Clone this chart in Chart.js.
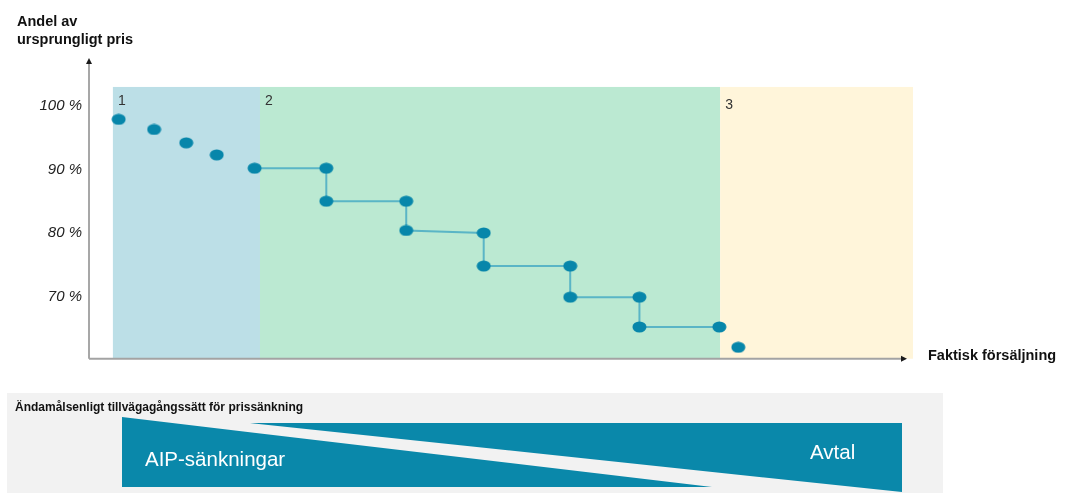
<!DOCTYPE html>
<html lang="sv">
<head>
<meta charset="utf-8">
<script src="https://cdn.jsdelivr.net/npm/chart.js@4.4.1/dist/chart.umd.min.js"></script>
<style>
  html, body { margin: 0; padding: 0; background: #fff; }
  #wrap { position: relative; width: 1067px; height: 493px; overflow: hidden; font-family: "Liberation Sans", Arial, sans-serif; }
  #c { position: absolute; left: 0; top: 0; }
  #panel { position: absolute; left: 0; top: 0; }
  .t { position: absolute; white-space: nowrap; }
  #ytitle { left: 17px; top: 13px; font-size: 14.5px; font-weight: bold; line-height: 17.5px; color: #111; }
  #xtitle { left: 928px; top: 346px; font-size: 14.5px; font-weight: bold; line-height: 18px; color: #111; }
  #ptitle { left: 15px; top: 400px; font-size: 12px; font-weight: bold; line-height: 14px; color: #111; }
  #aip { left: 145px; top: 447px; font-size: 20.5px; line-height: 24px; color: #fff; }
  #avtal { left: 810px; top: 440px; font-size: 20.5px; line-height: 24px; color: #fff; }
</style>
</head>
<body>
<div id="wrap">
  <canvas id="c" width="1067" height="493"></canvas>
  <svg id="panel" width="1067" height="493" viewBox="0 0 1067 493">
    <rect x="7" y="393" width="936" height="100" fill="#F2F2F2"/>
    <polygon points="122,417 122,487 712,487" fill="#0A88AA"/>
    <polygon points="250,423 902,423 902,492" fill="#0A88AA"/>
  </svg>
  <div class="t" id="ytitle">Andel av<br>ursprungligt pris</div>
  <div class="t" id="xtitle">Faktisk försäljning</div>
  <div class="t" id="ptitle">Ändamålsenligt tillvägagångssätt för prissänkning</div>
  <div class="t" id="aip">AIP-sänkningar</div>
  <div class="t" id="avtal">Avtal</div>
</div>
<script>
// Share of the original price (%) against actual sales (relative units)
const earlyX = [3.6, 7.9, 11.8, 15.5];
const earlyY = [97.9, 96.3, 94.2, 92.3];
const stepX = [20.1, 28.8, 28.8, 38.5, 38.5, 47.9, 47.9, 58.4, 58.4, 66.8, 66.8, 76.5];
const stepY = [90.2, 90.2, 85.0, 85.0, 80.4, 80.0, 74.8, 74.8, 69.9, 69.9, 65.2, 65.2];
const lateX = [78.8];
const lateY = [62.0];

// Phase boundaries on the sales axis, and their labels
const phaseEdges = [2.9, 20.75, 76.6, 100];
const phaseLabels = ['1', '2', '3'];
const phaseColors = ['#BCDFE7', '#BBE9D2', '#FFF5DA'];
const phaseTop = 103.0;
const axisBase = 60.2;

const yTicks = [70, 80, 90, 100];

const toPoints = (xs, ys) => xs.map((x, i) => ({ x: x, y: ys[i] }));

// Flat oval marker
function ovalMarker(w, h, color) {
  const c = document.createElement('canvas');
  c.width = w; c.height = h;
  const g = c.getContext('2d');
  g.fillStyle = color;
  g.beginPath();
  g.ellipse(w / 2, h / 2, w / 2 - 0.5, h / 2 - 0.5, 0, 0, Math.PI * 2);
  g.fill();
  return c;
}
const dot = ovalMarker(15, 12, '#0786AA');

// Coloured phase bands behind the series
const phaseBands = {
  id: 'phaseBands',
  beforeDatasetsDraw(chart) {
    const { ctx, scales: { x, y } } = chart;
    const top = y.getPixelForValue(phaseTop);
    const bottom = y.getPixelForValue(axisBase);
    ctx.save();
    for (let i = 0; i < phaseLabels.length; i++) {
      const l = x.getPixelForValue(phaseEdges[i]);
      const r = x.getPixelForValue(phaseEdges[i + 1]);
      ctx.fillStyle = phaseColors[i];
      ctx.fillRect(l, top, r - l, bottom - top);
      ctx.fillStyle = '#333';
      ctx.font = '14px "Liberation Sans", Arial, sans-serif';
      ctx.textAlign = 'left';
      ctx.textBaseline = 'middle';
      ctx.fillText(phaseLabels[i], l + 5, top + 14 + (i === 2 ? 4 : 0));
    }
    ctx.restore();
  }
};

// Axis lines with arrow heads
const arrowAxes = {
  id: 'arrowAxes',
  afterDatasetsDraw(chart) {
    const { ctx, chartArea, scales: { y } } = chart;
    const ox = chartArea.left;
    const oy = y.getPixelForValue(axisBase);
    const xEnd = chartArea.right - 6;
    const yEnd = 58;
    ctx.save();
    ctx.strokeStyle = '#8A8A8A';
    ctx.lineWidth = 1.5;
    ctx.beginPath();
    ctx.moveTo(ox, oy);
    ctx.lineTo(ox, yEnd + 5);
    ctx.stroke();
    ctx.strokeStyle = '#A3A3A3';
    ctx.lineWidth = 2;
    ctx.beginPath();
    ctx.moveTo(ox, oy);
    ctx.lineTo(xEnd - 5, oy);
    ctx.stroke();
    ctx.fillStyle = '#1a1a1a';
    ctx.beginPath();
    ctx.moveTo(ox, yEnd);
    ctx.lineTo(ox - 3, yEnd + 6);
    ctx.lineTo(ox + 3, yEnd + 6);
    ctx.closePath();
    ctx.fill();
    ctx.beginPath();
    ctx.moveTo(xEnd, oy);
    ctx.lineTo(xEnd - 6, oy - 3);
    ctx.lineTo(xEnd - 6, oy + 3);
    ctx.closePath();
    ctx.fill();
    ctx.restore();
  }
};

new Chart(document.getElementById('c'), {
  type: 'scatter',
  data: {
    datasets: [
      {
        label: 'Prissteg',
        data: toPoints(stepX, stepY),
        showLine: true,
        borderColor: '#5AB5C6',
        borderWidth: 2,
        pointStyle: dot,
        pointRadius: 6,
        pointHoverRadius: 6
      },
      {
        label: 'Pris',
        data: toPoints(earlyX.concat(lateX), earlyY.concat(lateY)),
        showLine: false,
        pointStyle: dot,
        pointRadius: 6,
        pointHoverRadius: 6
      }
    ]
  },
  options: {
    responsive: false,
    animation: false,
    events: [],
    layout: { padding: { left: 0, top: 55.2, right: 154, bottom: 133 } },
    plugins: { legend: { display: false }, tooltip: { enabled: false } },
    scales: {
      x: { type: 'linear', min: 0, max: 100, display: false },
      y: {
        type: 'linear',
        min: 60,
        max: 108,
        afterBuildTicks: (s) => { s.ticks = yTicks.map(v => ({ value: v })); },
        afterFit: (s) => { s.width = 89; },
        grid: { display: false, drawTicks: false },
        border: { display: false },
        ticks: {
          padding: 7,
          color: '#222',
          font: { family: '"Liberation Sans", Arial, sans-serif', size: 15, style: 'italic' },
          callback: (v) => v + ' %'
        }
      }
    }
  },
  plugins: [phaseBands, arrowAxes]
});
</script>
</body>
</html>
